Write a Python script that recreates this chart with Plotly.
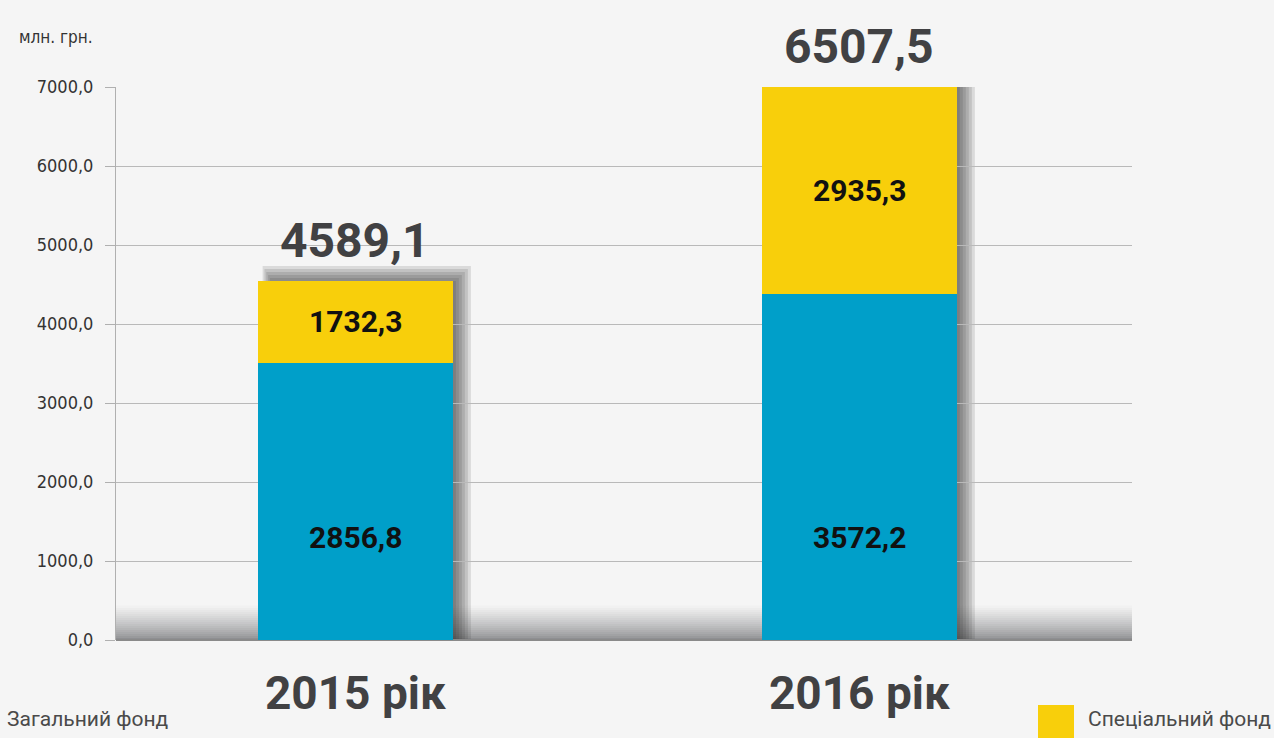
import plotly.graph_objects as go

# values shown on the chart (млн. грн.)
years = ["2015 рік", "2016 рік"]
general_fund = [2856.8, 3572.2]
special_fund = [1732.3, 2935.3]
totals = [4589.1, 6507.5]
# bar heights as drawn in the picture (the source does not draw to scale)
drawn_general = [3510, 4380]
drawn_special = [1034, 2620]
y_ticks = [0, 1000, 2000, 3000, 4000, 5000, 6000, 7000]

W, H = 1274, 738
L, R, T, B = 116, 1132, 87, 640
X_RANGE = [-0.475, 1.541]
Y_RANGE = [0, 7000]
BAR_W = 0.387
BLUE = "#009fc9"
YELLOW = "#f8cf0b"
BG = "#f5f5f5"
DARK = "#414143"
NARROW = "DejaVu Sans Condensed, Liberation Sans Narrow, Roboto, sans-serif"

xpp = (X_RANGE[1] - X_RANGE[0]) / (R - L)   # data units per pixel
ypp = (Y_RANGE[1] - Y_RANGE[0]) / (B - T)
xs = list(range(len(years)))


def paper_x(p):
    return (p - L) / (R - L)


def paper_y(p):
    return (B - p) / (B - T)


def lerp_color(c0, c1, t):
    a = [int(c0[i:i + 2], 16) for i in (1, 3, 5)]
    b = [int(c1[i:i + 2], 16) for i in (1, 3, 5)]
    return "#" + "".join(f"{round(a[k] + (b[k] - a[k]) * t):02x}" for k in range(3))


shapes = []
# grey floor band with a vertical gradient
n_strips = 17
for i in range(n_strips):
    t = (i / (n_strips - 1)) ** 0.8
    shapes.append(dict(
        type="rect", layer="below", xref="x", yref="y",
        x0=X_RANGE[0], x1=X_RANGE[1], y0=i * 2 * ypp, y1=(i + 1) * 2 * ypp + ypp * 0.5,
        fillcolor=lerp_color("#8e8f92", "#f1f1f1", t), line=dict(width=0),
    ))

# soft drop shadows behind the bars (offset to the right and up)
for x, g, s in zip(xs, drawn_general, drawn_special):
    top = g + s
    for e in range(-9, 13, 3):
        shapes.append(dict(
            type="rect", layer="below", xref="x", yref="y",
            x0=x - BAR_W / 2 + (12 - 0.6 * e) * xpp, x1=x + BAR_W / 2 + (6 + e) * xpp,
            y0=-20 * ypp, y1=top + (3 + e) * ypp,
            fillcolor="#2a2a2a", opacity=0.13, line=dict(width=0),
        ))

# legend square for the special fund
shapes.append(dict(
    type="rect", xref="paper", yref="paper",
    x0=paper_x(1038), x1=paper_x(1074), y0=paper_y(745), y1=paper_y(705),
    fillcolor=YELLOW, line=dict(width=0),
))

fig = go.Figure()
fig.add_trace(go.Bar(
    x=xs, y=drawn_general, width=BAR_W, marker=dict(color=BLUE, line=dict(width=0)),
    name="Загальний фонд", hoverinfo="skip",
))
fig.add_trace(go.Bar(
    x=xs, y=drawn_special, width=BAR_W, marker=dict(color=YELLOW, line=dict(width=0)),
    name="Спеціальний фонд", hoverinfo="skip",
))

annotations = []
for x, g, s, gv, sv, tv in zip(xs, drawn_general, drawn_special, general_fund, special_fund, totals):
    annotations.append(dict(
        x=x, y=g + s, xref="x", yref="y", yanchor="bottom", yshift=10,
        text=f"{tv:.1f}".replace(".", ","), showarrow=False,
        font=dict(family="Roboto", size=48, color=DARK, weight="bold"),
    ))
    annotations.append(dict(
        x=x, y=g + s / 2, xref="x", yref="y",
        text=f"{sv:.1f}".replace(".", ","), showarrow=False,
        font=dict(family="Roboto", size=30, color="#111111", weight="bold"),
    ))
    annotations.append(dict(
        x=x, y=1300, xref="x", yref="y",
        text=f"{gv:.1f}".replace(".", ","), showarrow=False,
        font=dict(family="Roboto", size=30, color="#111111", weight="bold"),
    ))

annotations.append(dict(
    x=paper_x(95), y=paper_y(25), xref="paper", yref="paper", xanchor="right",
    text="млн. грн.", showarrow=False, font=dict(family=NARROW, size=17, color="#333333"),
))
annotations.append(dict(
    x=paper_x(5), y=paper_y(733), xref="paper", yref="paper", xanchor="left",
    text="Загальний фонд", showarrow=False, font=dict(family="Roboto", size=21, color="#4a4a4a"),
))
annotations.append(dict(
    x=paper_x(1086), y=paper_y(733), xref="paper", yref="paper", xanchor="left",
    text="Спеціальний фонд", showarrow=False, font=dict(family="Roboto", size=21, color="#4a4a4a"),
))

fig.update_layout(
    width=W, height=H,
    barmode="stack",
    showlegend=False,
    paper_bgcolor=BG, plot_bgcolor=BG,
    margin=dict(l=L, r=W - R, t=T, b=H - B),
    separators=",.",
    shapes=shapes,
    annotations=annotations,
    xaxis=dict(
        range=X_RANGE, tickvals=xs, ticktext=years, showgrid=False, zeroline=False,
        showline=False, ticks="", ticklabelstandoff=22,
        tickfont=dict(family="Roboto", size=46, color=DARK, weight="bold"),
    ),
    yaxis=dict(
        range=Y_RANGE, tickvals=y_ticks, tickformat=".1f",
        showgrid=True, gridcolor="#b9b9b9", gridwidth=1,
        zeroline=True, zerolinecolor="#8a8a8a", zerolinewidth=1.5,
        showline=True, linecolor="#b0b0b0", linewidth=1,
        ticks="outside", ticklen=10, tickcolor="#b0b0b0", ticklabelstandoff=8,
        tickfont=dict(family=NARROW, size=18, color="#333333"),
    ),
)

fig.write_html(
    "out.html",
    config={"displayModeBar": False},
    post_script="document.body.style.margin = '0';",
)
